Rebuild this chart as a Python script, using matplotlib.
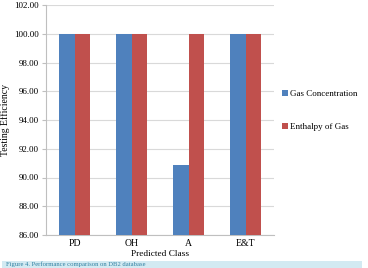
import matplotlib
matplotlib.use("Agg")
import matplotlib.pyplot as plt
import numpy as np
from matplotlib.patches import Rectangle

categories = ["PD", "OH", "A", "E&T"]
gas_concentration = [100.0, 100.0, 90.9, 100.0]
enthalpy_of_gas = [100.0, 100.0, 100.0, 100.0]
yticks = [86, 88, 90, 92, 94, 96, 98, 100, 102]

plt.rcParams['font.family'] = ['Liberation Serif', 'DejaVu Serif']

fig = plt.figure(figsize=(3.68, 2.68), dpi=100)
ax = fig.add_axes([46/368, 1 - 235/268, 228/368, 230/268])

x = np.arange(len(categories))
w = 0.28
ax.bar(x - w/2, gas_concentration, w, color="#4F81BD", label="Gas Concentration", zorder=3)
ax.bar(x + w/2, enthalpy_of_gas, w, color="#C0504D", label="Enthalpy of Gas", zorder=3)

ax.set_xlim(-0.5, len(categories) - 0.5)
ax.set_ylim(86, 102)
ax.set_yticks(yticks)
ax.set_yticklabels([f"{v:.2f}" for v in yticks], fontsize=6.5)
ax.set_xticks(x)
ax.set_xticklabels(categories, fontsize=7)
ax.tick_params(axis='x', length=0, pad=3)
ax.tick_params(axis='y', length=3, color="#BFBFBF", pad=2)
ax.grid(axis='y', color="#D9D9D9", linewidth=0.8, zorder=0)
for s in ["top", "right"]:
    ax.spines[s].set_visible(False)
for s in ["left", "bottom"]:
    ax.spines[s].set_color("#BFBFBF")
    ax.spines[s].set_linewidth(0.8)

ax.set_ylabel("Testing Efficiency", fontsize=7, labelpad=3)
ax.set_xlabel("Predicted Class", fontsize=6.7, labelpad=1)

leg = ax.legend(loc="center left", bbox_to_anchor=(1.0, 0.54), frameon=False,
                fontsize=6.5, handlelength=0.6, handleheight=0.6,
                handletextpad=0.3, labelspacing=2.8)

# caption band
fig.patches.append(Rectangle((2/368, 0), 360/368, 7/268, transform=fig.transFigure,
                             facecolor="#D3EAF2", edgecolor="none", zorder=0))
fig.text(6/368, 1/268, "Figure 4. Performance comparison on DB2 database",
         fontsize=4.8, color="#2E7FA0", va="bottom", ha="left")

fig.savefig("out.png", dpi=100)
